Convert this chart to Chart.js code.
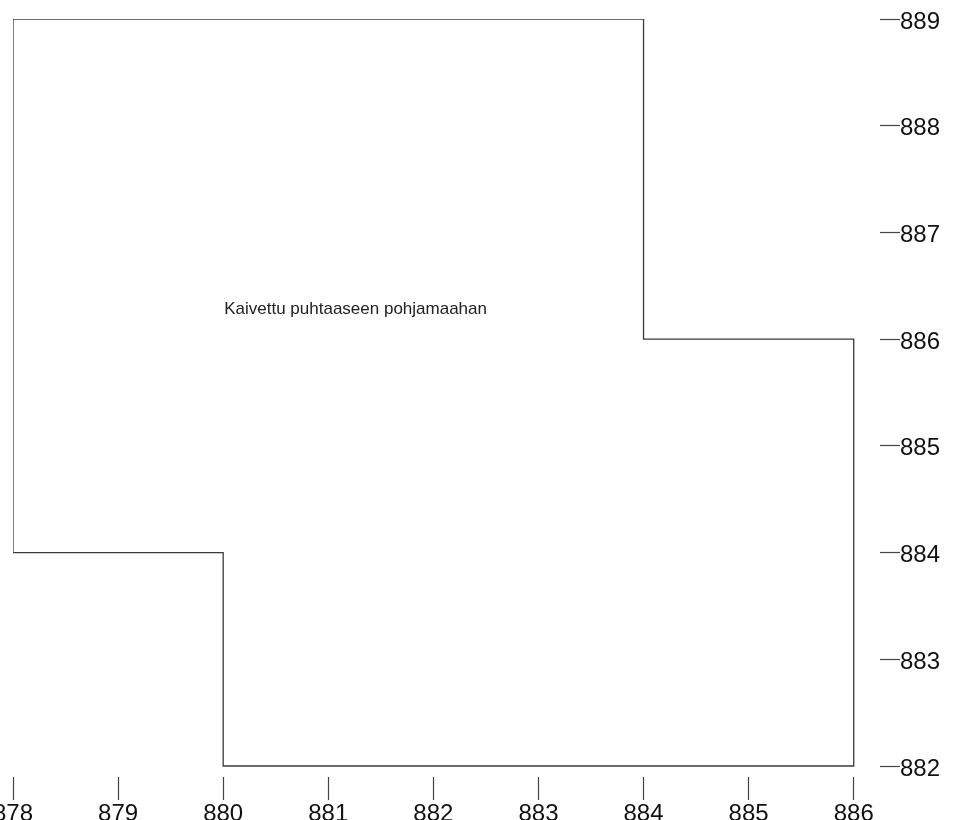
<!DOCTYPE html>
<html lang="fi">
<head>
<meta charset="UTF-8">
<title>Kaivanto</title>
<script src="https://cdn.jsdelivr.net/npm/chart.js@4.4.0/dist/chart.umd.min.js"></script>
<style>
  body { margin: 0; background: #fff; }
  #wrap { width: 953px; height: 820px; }
</style>
</head>
<body>
<div id="wrap"><canvas id="myChart" width="953" height="820"></canvas></div>
<script>
// outline of the excavation, corner points (x, y)
const outlineX = [878, 884, 884, 886, 886, 880, 880, 878, 878];
const outlineY = [889, 889, 886, 886, 882, 882, 884, 884, 889];
const xTicks = [878, 879, 880, 881, 882, 883, 884, 885, 886];
const yTicks = [882, 883, 884, 885, 886, 887, 888, 889];
const noteText = 'Kaivettu puhtaaseen pohjamaahan';
const noteX = 881.26;
const noteY = 886.28;

const points = outlineX.map((x, i) => ({x: x, y: outlineY[i]}));

const notePlugin = {
  id: 'note',
  afterDatasetsDraw(chart) {
    const c = chart.ctx;
    const px = chart.scales.x.getPixelForValue(noteX);
    const py = chart.scales.y.getPixelForValue(noteY);
    c.save();
    c.font = '17px "Liberation Sans", Arial, sans-serif';
    c.fillStyle = '#222';
    c.textAlign = 'center';
    c.textBaseline = 'middle';
    c.fillText(noteText, px, py);
    c.restore();
  }
};

const tickFont = {family: '"Liberation Sans", Arial, sans-serif', size: 24};

new Chart(document.getElementById('myChart'), {
  type: 'scatter',
  data: {
    datasets: [{
      data: points,
      showLine: true,
      fill: false,
      borderColor: '#3a3a3a',
      borderWidth: 1.3,
      pointRadius: 0,
      tension: 0
    }]
  },
  options: {
    responsive: false,
    animation: false,
    layout: { padding: { left: 13, top: 19, right: 0, bottom: 0 } },
    plugins: { legend: { display: false }, tooltip: { enabled: false } },
    scales: {
      x: {
        type: 'linear',
        min: 878,
        max: 886.25,
        afterBuildTicks: s => { s.ticks = xTicks.map(v => ({value: v})); },
        afterFit: s => { s.height = 43; s.paddingLeft = 0; s.paddingRight = 0; },
        border: { display: false },
        grid: { drawOnChartArea: false, drawTicks: true, tickLength: 23, color: '#444', tickWidth: 1.2 },
        ticks: { font: tickFont, color: '#111', padding: 0, maxRotation: 0, autoSkip: false }
      },
      y: {
        type: 'linear',
        position: 'right',
        min: 881.897,
        max: 889,
        afterBuildTicks: s => { s.ticks = yTicks.map(v => ({value: v})); },
        afterFit: s => { s.width = 73; s.paddingTop = 0; s.paddingBottom = 0; },
        border: { display: false },
        grid: { drawOnChartArea: false, drawTicks: true, tickLength: 20, color: '#444', tickWidth: 1.2 },
        ticks: { font: tickFont, color: '#111', padding: 0, labelOffset: 3, autoSkip: false }
      }
    }
  },
  plugins: [notePlugin]
});
</script>
</body>
</html>
